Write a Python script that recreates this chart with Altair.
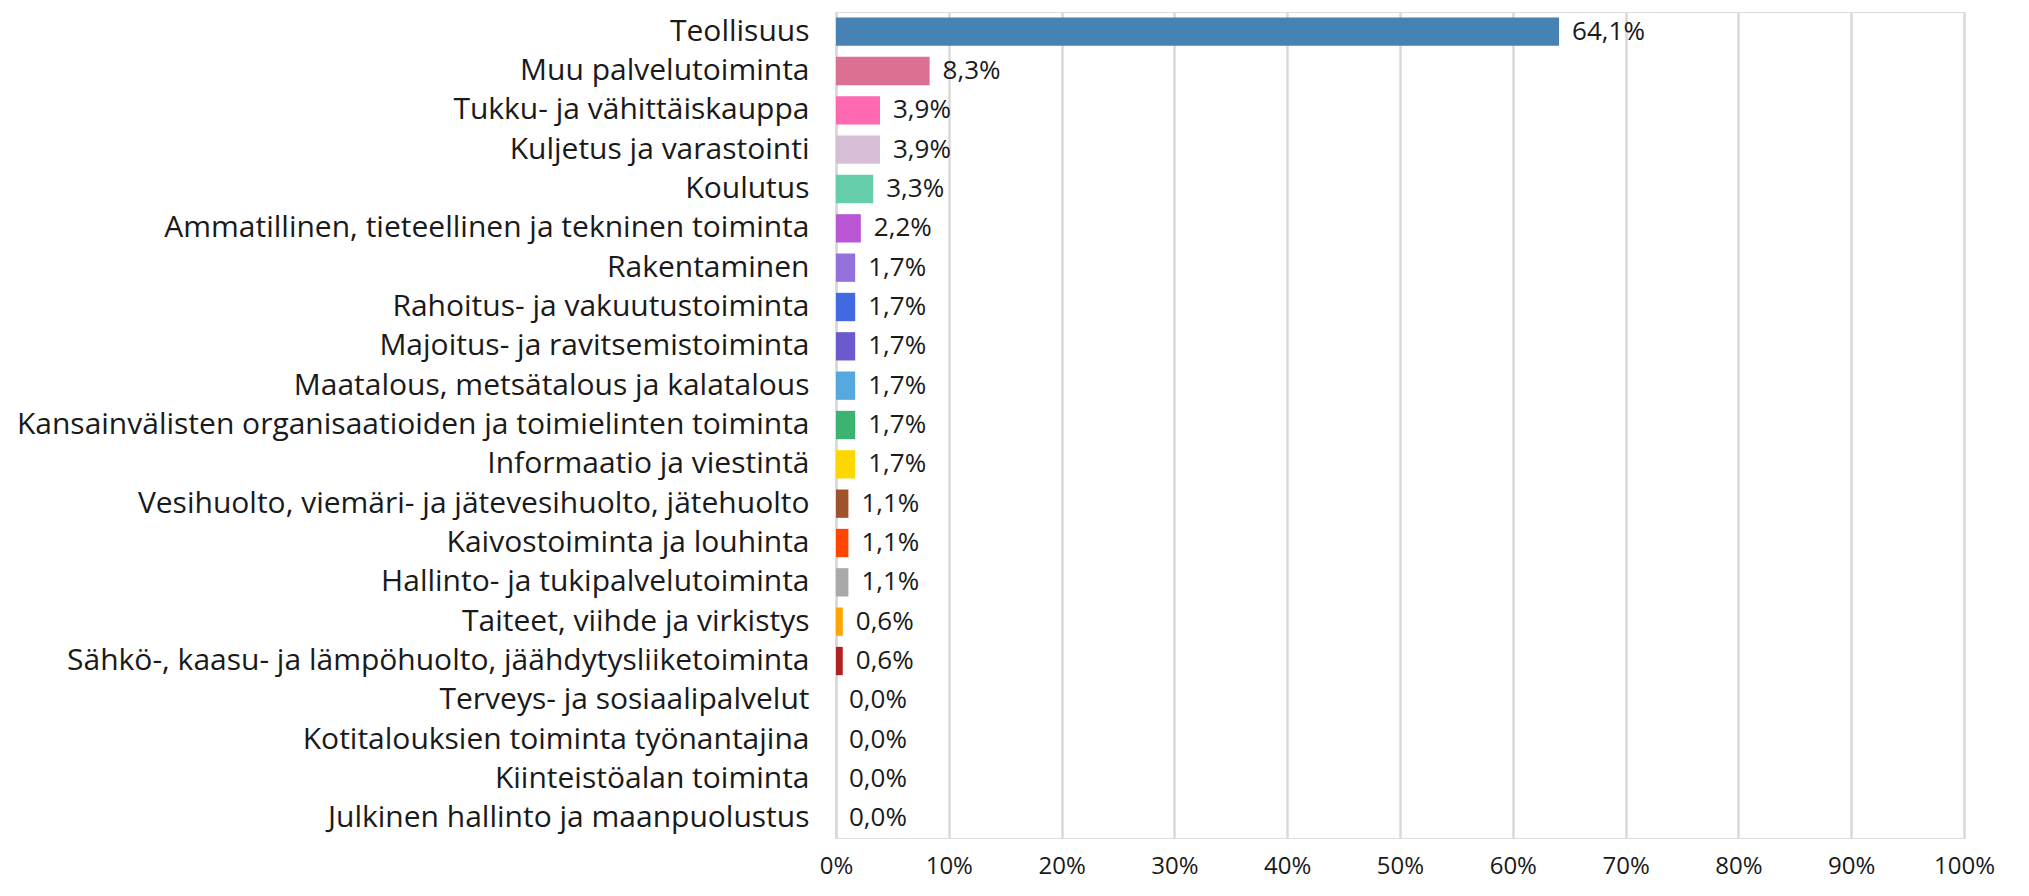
import altair as alt
import pandas as pd

categories = [
    "Teollisuus",
    "Muu palvelutoiminta",
    "Tukku- ja vähittäiskauppa",
    "Kuljetus ja varastointi",
    "Koulutus",
    "Ammatillinen, tieteellinen ja tekninen toiminta",
    "Rakentaminen ",
    "Rahoitus- ja vakuutustoiminta",
    "Majoitus- ja ravitsemistoiminta",
    "Maatalous, metsätalous ja kalatalous",
    "Kansainvälisten organisaatioiden ja toimielinten toiminta",
    "Informaatio ja viestintä",
    "Vesihuolto, viemäri- ja jätevesihuolto, jätehuolto",
    "Kaivostoiminta ja louhinta",
    "Hallinto- ja tukipalvelutoiminta",
    "Taiteet, viihde ja virkistys",
    "Sähkö-, kaasu- ja lämpöhuolto, jäähdytysliiketoiminta",
    "Terveys- ja sosiaalipalvelut",
    "Kotitalouksien toiminta työnantajina",
    "Kiinteistöalan toiminta",
    "Julkinen hallinto ja maanpuolustus",
]
values = [64.1, 8.3, 3.9, 3.9, 3.3, 2.2, 1.7, 1.7, 1.7, 1.7, 1.7, 1.7,
          1.1, 1.1, 1.1, 0.6, 0.6, 0.0, 0.0, 0.0, 0.0]
colors = ["#4682B4", "#DB7093", "#FF69B4", "#D8BFD8", "#66CDAA", "#BA55D3",
          "#9370DB", "#4169E1", "#6A5ACD", "#55A9DE", "#3CB371", "#FFD700",
          "#A0522D", "#FF4500", "#A9A9A9", "#FFA500", "#B22222",
          "#87CEEB", "#DDA0DD", "#20B2AA", "#F08080"]
x_ticks = [0, 10, 20, 30, 40, 50, 60, 70, 80, 90, 100]

df = pd.DataFrame({"cat": categories, "val": values})

FONT = "Open Sans"

base = alt.Chart(df).encode(
    y=alt.Y("cat:N", sort=categories, title=None,
            scale=alt.Scale(paddingInner=0.28, paddingOuter=0.14),
            axis=alt.Axis(labelFont=FONT, labelFontSize=30, labelColor="#1a1a1a",
                          ticks=False, labelPadding=27, domain=True,
                          domainColor="#d9d9d9", domainWidth=2.5, labelLimit=1000)),
)

bars = base.mark_bar().encode(
    x=alt.X("val:Q", title=None,
            scale=alt.Scale(domain=[0, 100], nice=False),
            axis=alt.Axis(values=x_ticks, labelExpr="datum.value + '%'",
                          labelFont=FONT, labelFontSize=24, labelColor="#1a1a1a",
                          labelFlush=False,
                          ticks=False, domain=False, labelPadding=16,
                          grid=True, gridColor="#d9d9d9", gridWidth=2.5)),
    color=alt.Color("cat:N", scale=alt.Scale(domain=categories, range=colors), legend=None),
)

labels = base.mark_text(align="left", baseline="middle", dx=13, font=FONT,
                        fontSize=26, color="#1a1a1a").transform_calculate(
    lbl="replace(format(datum.val, '.1f'), '.', ',') + '%'"
).encode(x=alt.X("val:Q"), text="lbl:N")

chart = alt.layer(bars, labels).properties(
    width=1128, height=826,
    padding={"top": 4, "left": 8, "right": 5, "bottom": 4},
).configure_view(stroke=None).configure(background="white")

chart.save("out.html", embed_options={"renderer": "svg", "actions": False})
